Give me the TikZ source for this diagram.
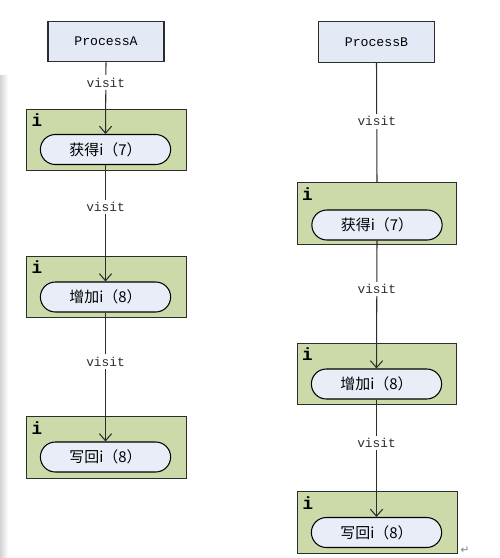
\documentclass[tikz,border=0pt]{standalone}
\usepackage{fontspec}
\setmonofont{Liberation Mono}
\newfontfamily\cjk{Noto Sans CJK SC}
\newfontfamily\symfont{DejaVu Sans}
\usetikzlibrary{shapes.misc,arrows.meta}
\definecolor{procfill}{RGB}{228,233,246}
\definecolor{varfill}{RGB}{204,217,168}
\definecolor{pillfill}{RGB}{233,237,248}
\definecolor{edgecol}{RGB}{45,45,45}
\tikzstyle{process}=[draw=edgecol, fill=procfill, line width=.7pt, minimum width=2.32cm, minimum height=.81cm, font=\ttfamily\fontsize{7.5}{8}\selectfont]
\tikzstyle{var box}=[draw=edgecol, fill=varfill, line width=.7pt, minimum width=3.19cm, minimum height=1.23cm]
\tikzstyle{pill}=[draw=black, fill=pillfill, rounded rectangle, line width=.6pt, minimum width=2.84cm, minimum height=.6cm, font=\cjk\fontsize{8.5}{9}\selectfont]
\tikzstyle{var name}=[anchor=north west, inner sep=0pt, font=\ttfamily\bfseries\fontsize{10}{10}\selectfont]
\tikzstyle{visit}=[fill=white, inner sep=1.5pt, font=\ttfamily\fontsize{7.3}{8}\selectfont]

\begin{document}
\begin{tikzpicture}[x=.02cm,y=-.02cm,>={Straight Barb[length=4pt,width=7pt]},line width=.6pt]

    \useasboundingbox (0,0) rectangle (500,558);
    % Margin
    \fill[left color=gray!35,right color=white] (0,75) rectangle (8,558);

    % Processes
    \draw (106,41.5) node[process] (pa) {ProcessA};
    \draw (376.5,42) node[process] (pb) {ProcessB};

    % Variables of A
    \draw (106.5,140) node[var box] (a1) {};
    \draw (106.5,287) node[var box] (a2) {};
    \draw (106.5,447.5) node[var box] (a3) {};
    \draw (105.5,149.5) node[pill] (a1p) {获得i（7）};
    \draw (105.5,297) node[pill] (a2p) {增加i（8）};
    \draw (105.5,457) node[pill] (a3p) {写回i（8）};

    % Variables of B
    \draw (377,213.5) node[var box] (b1) {};
    \draw (377,374) node[var box] (b2) {};
    \draw (377.5,522.5) node[var box] (b3) {};
    \draw (377,225) node[pill] (b1p) {获得i（7）};
    \draw (376.5,384) node[pill] (b2p) {增加i（8）};
    \draw (376.5,532.5) node[pill] (b3p) {写回i（8）};

    \foreach \v in {a1,a2,a3,b1,b2,b3}
      \draw ([shift={(5,5)}]\v.north west) node[var name] {i};

    % Visits
    \draw[->,edgecol] (pa.south) -- node[visit,pos=.28] {visit} (a1p.north);
    \draw[->,edgecol] (a1p.south) -- node[visit,pos=.36] {visit} (a2p.north);
    \draw[->,edgecol] (a2p.south) -- node[visit,pos=.38] {visit} (a3p.north);
    \draw[edgecol] (pb.south) -- node[visit,pos=.49] {visit} (b1.north);
    \draw[->,edgecol] (b1p.south) -- node[visit,pos=.38] {visit} (b2p.north);
    \draw[->,edgecol] (b2p.south) -- node[visit,pos=.37] {visit} (b3p.north);

    \draw (465,550) node[gray, font=\symfont\fontsize{6}{6}\selectfont] (ret) {↵};

\end{tikzpicture}
\end{document}
